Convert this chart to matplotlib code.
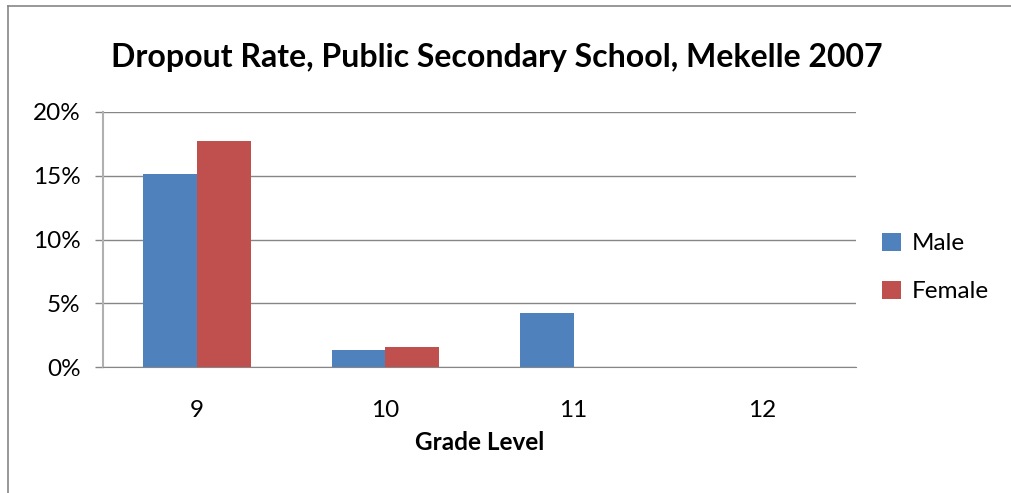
import numpy as np
import matplotlib
matplotlib.use("Agg")
import matplotlib.pyplot as plt
from matplotlib.lines import Line2D

grades = ["9", "10", "11", "12"]
male = [15.1, 1.3, 4.2, 0.0]
female = [17.7, 1.55, 0.0, 0.0]
yticks = [0, 5, 10, 15, 20]

plt.rcParams['font.family'] = ['Lato', 'DejaVu Sans']

fig = plt.figure(figsize=(10.12, 4.93), dpi=100)
ax = fig.add_axes([103 / 1012, 1 - 367 / 493, (856 - 103) / 1012, (367 - 112) / 493])

x = np.arange(len(grades))
w = 1 / 3.5
ax.bar(x - w / 2, male, w, color="#4F81BD", label="Male", zorder=3)
ax.bar(x + w / 2, female, w, color="#C0504D", label="Female", zorder=3)

ax.set_xlim(-0.5, len(grades) - 0.5)
ax.set_ylim(0, 20)
ax.set_yticks(yticks)
ax.set_yticklabels([f"{t}%" for t in yticks], fontsize=17.5)
ax.set_xticks(x)
ax.set_xticklabels(grades, fontsize=17.5)
ax.tick_params(axis="x", length=0, pad=24)
ax.tick_params(axis="y", length=6, width=1, color="#868686", pad=10)
ax.grid(axis="y", color="#868686", linewidth=1, zorder=0)
for s in ["top", "right"]:
    ax.spines[s].set_visible(False)
ax.spines["left"].set_color("#B0B0B0")
ax.spines["left"].set_linewidth(1.5)
ax.spines["bottom"].set_color("#868686")
ax.set_xlabel("Grade Level", fontsize=17.5, fontweight="bold", labelpad=7)

fig.text(497 / 1012, 1 - 58 / 493, "Dropout Rate, Public Secondary School, Mekelle 2007",
         ha="center", va="center", fontsize=23, fontweight="bold")

ax.legend(loc="center left", bbox_to_anchor=(1.035, 0.39), frameon=False,
          fontsize=17.5, handlelength=0.75, handleheight=0.75, handletextpad=0.45,
          labelspacing=1.1, borderpad=0, borderaxespad=0)

# outer chart border (left and top visible)
fig.add_artist(Line2D([8 / 1012, 8 / 1012], [0, 1 - 6 / 493], color="#868686", lw=1.2))
fig.add_artist(Line2D([8 / 1012, 1], [1 - 6 / 493, 1 - 6 / 493], color="#868686", lw=1.2))

fig.savefig("out.png", dpi=100)
